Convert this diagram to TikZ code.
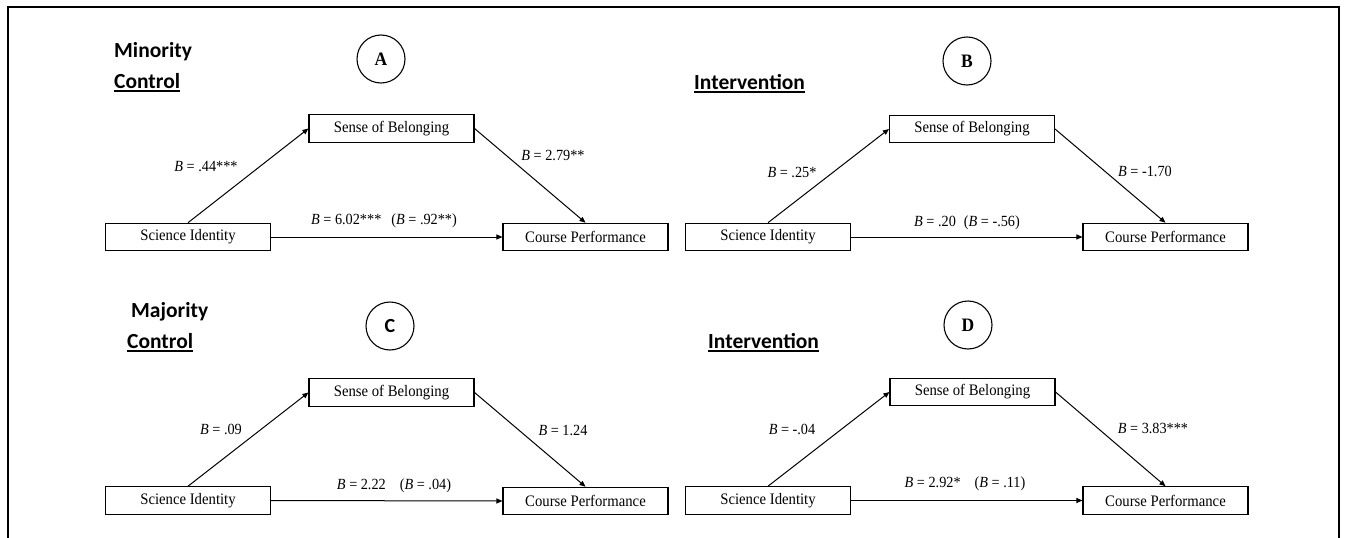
\documentclass[tikz,border=0pt]{standalone}
\usepackage{fontspec}
\setmainfont[FakeStretch=0.92]{Liberation Serif}
\newfontfamily\hfont{Carlito}
\usetikzlibrary{arrows.meta}
\newcommand\boxfont{\fontsize{16}{18}\selectfont}
\newcommand\labfont{\fontsize{15.5}{17}\selectfont}
\newcommand\headfont{\hfont\bfseries\fontsize{21.5}{24}\selectfont}
\newcommand\circfont{\bfseries\fontsize{19}{21}\selectfont}
\begin{document}
\begin{tikzpicture}[x=1pt,y=-1pt,
  box/.style={draw,line width=1.1pt,minimum width=165pt,minimum height=27.5pt,inner sep=0pt,font=\boxfont},
  lab/.style={inner sep=0pt,font=\labfont},
  conn/.style={line width=1pt,-{Triangle[length=6pt,width=5pt]}},
  head/.style={anchor=base west,inner sep=0pt,font=\headfont},
  circ/.style={draw,circle,line width=1.1pt,minimum size=48pt,inner sep=0pt,font=\circfont},
  uline/.style={line width=1.4pt}]
\useasboundingbox (0,0) rectangle (1345,538);
\fill[white] (0,0) rectangle (1345,538);
% outer frame (open at the bottom)
\coordinate (fbl) at (8,538);
\coordinate (ftl) at (8,7);
\coordinate (ftr) at (1339,7);
\coordinate (fbr) at (1339,538);
\draw[line width=1.3pt] (fbl) -- (ftl) -- (ftr) -- (fbr);

% headings
\node[head] (minor) at (114,57) {Minority};
\node[head] (ctlA) at (114,88) {Control};
\draw[uline] ([yshift=-3pt]ctlA.base west) -- ([yshift=-3pt]ctlA.base east);
\node[head] (intB) at (694,89) {Intervention};
\draw[uline] ([yshift=-3pt]intB.base west) -- ([yshift=-3pt]intB.base east);
\node[head] (major) at (131,317) {Majority};
\node[head] (ctlC) at (127,348) {Control};
\draw[uline] ([yshift=-3pt]ctlC.base west) -- ([yshift=-3pt]ctlC.base east);
\node[head] (intD) at (708,348) {Intervention};
\draw[uline] ([yshift=-3pt]intD.base west) -- ([yshift=-3pt]intD.base east);

% circles
\node[circ] (cA) at (381,59) {A};
\node[circ] (cB) at (967,61) {B};
\node[circ,font=\hfont\bfseries\fontsize{20}{22}\selectfont] (cC) at (390,326) {C};
\node[circ] (cD) at (968,325) {D};

% Panel A
\node[box] (sbA) at (391.5,128.5) {Sense of Belonging};
\node[box] (siA) at (188,237) {Science Identity};
\node[box] (cpA) at (585.5,237) {Course Performance};
\draw[conn] (siA.north) -- (sbA.west);
\draw[conn] (sbA.east) -- (cpA.north);
\draw[conn] (siA.east) -- (cpA.west);
\node[lab] (lA1) at (206,167) {\textit{B} = .44***};
\node[lab] (lA2) at (553,155) {\textit{B} = 2.79**};
\node[lab] (lA3) at (384,221) {\textit{B} = 6.02***\hspace{10pt}(\textit{B} = .92**)};

% Panel B
\node[box] (sbB) at (972,129) {Sense of Belonging};
\node[box] (siB) at (768,237) {Science Identity};
\node[box] (cpB) at (1165.5,237) {Course Performance};
\draw[conn] (siB.north) -- (sbB.west);
\draw[conn] (sbB.east) -- (cpB.north);
\draw[conn] (siB.east) -- (cpB.west);
\node[lab] (lB1) at (792,172) {\textit{B} = .25*};
\node[lab] (lB2) at (1145,171) {\textit{B} = -1.70};
\node[lab] (lB3) at (967,223) {\textit{B} = .20\hspace{8pt}(\textit{B} = -.56)};

% Panel C
\node[box] (sbC) at (391.5,392.5) {Sense of Belonging};
\node[box] (siC) at (188,500.5) {Science Identity};
\node[box] (cpC) at (585.5,501) {Course Performance};
\draw[conn] (siC.north) -- (sbC.west);
\draw[conn] (sbC.east) -- (cpC.north);
\draw[conn] (siC.east) -- (cpC.west);
\node[lab] (lC1) at (221,429) {\textit{B} = .09};
\node[lab] (lC2) at (563,430) {\textit{B} = 1.24};
\node[lab] (lC3) at (394,486) {\textit{B} = 2.22\hspace{14pt}(\textit{B} = .04)};

% Panel D
\node[box] (sbD) at (972.5,392) {Sense of Belonging};
\node[box] (siD) at (768,500.5) {Science Identity};
\node[box] (cpD) at (1165.5,500.5) {Course Performance};
\draw[conn] (siD.north) -- (sbD.west);
\draw[conn] (sbD.east) -- (cpD.north);
\draw[conn] (siD.east) -- (cpD.west);
\node[lab] (lD1) at (792,429) {\textit{B} = -.04};
\node[lab] (lD2) at (1153,428) {\textit{B} = 3.83***};
\node[lab] (lD3) at (965,484) {\textit{B} = 2.92*\hspace{14pt}(\textit{B} = .11)};
\end{tikzpicture}
\end{document}
